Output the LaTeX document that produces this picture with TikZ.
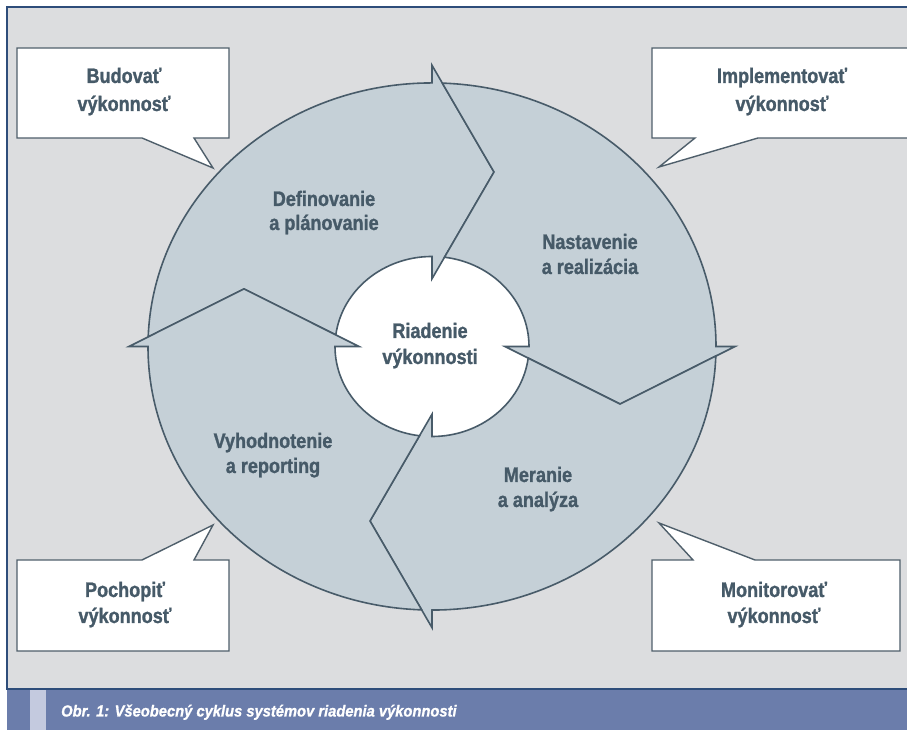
\documentclass[tikz,border=0pt]{standalone}
\usepackage{fontspec}
\setmainfont{Liberation Sans}[FakeStretch=0.86, BoldFeatures={FakeBold=1.2}, BoldItalicFeatures={FakeBold=1.2}]
\newfontfamily\capfont{Liberation Sans}[FakeStretch=0.92, BoldItalicFeatures={FakeBold=1}]
\definecolor{bgc}{HTML}{DCDDDF}
\definecolor{ringfill}{HTML}{C5D0D7}
\definecolor{ringline}{HTML}{485B69}
\definecolor{txt}{HTML}{465A68}
\definecolor{barc}{HTML}{6B7DAB}
\definecolor{stripec}{HTML}{C4CADF}
\definecolor{framec}{HTML}{2E4D7A}
\definecolor{calloutline}{HTML}{4F5F6B}
\begin{document}
\begin{tikzpicture}[x=1pt,y=1pt,
  callout/.style={fill=white,draw=calloutline,line width=1.4pt,line join=miter},
  seg/.style={fill=ringfill,draw=ringline,line width=1.6pt,line join=miter},
  lbl/.style={text=txt,font=\bfseries\fontsize{21}{25}\selectfont,anchor=base,inner sep=0pt},
  captiontext/.style={text=white,font=\capfont\bfseries\itshape\fontsize{16}{18}\selectfont,anchor=base west,inner sep=0pt}]
\useasboundingbox (0,0) rectangle (907,730);
\fill[white] (0,0) rectangle (907,730);
\fill[bgc] (7,41) rectangle (907,723);
\fill[barc] (7,0) rectangle (907,41);
\fill[stripec] (30,0) rectangle (46,41);
\draw[framec,line width=1.5pt] (907,723) -- (7,723) -- (7,41) -- (907,41);

% callouts
\draw[callout] (17,682) -- (229,682) -- (229,592) -- (194,592) -- (213,562) -- (142,592) -- (17,592) -- cycle;
\draw[callout] (652,682) -- (915,682) -- (915,592) -- (758,592) -- (659,563) -- (695,592) -- (652,592) -- cycle;
\draw[callout] (17,79) -- (17,170) -- (142,170) -- (213,205) -- (194,170) -- (229,170) -- (229,79) -- cycle;
\draw[callout] (652,79) -- (652,170) -- (693,170) -- (659,207) -- (755,170) -- (900,170) -- (900,79) -- cycle;

% ring
\begin{scope}[shift={(432,383.5)},yscale=0.928]
  \fill[white] (0,0) circle[radius=97pt];
  \foreach \a in {180,90,0,-90}{
    \filldraw[seg] ({\a-2.08}:284pt) -- ({\a-18.25}:198pt) -- ({\a-7.4}:97pt)
      arc[start angle={\a-7.4}, end angle={\a-90}, radius=97pt]
      -- ({\a-90}:73pt) -- ({\a-108.25}:198pt) -- ({\a-90}:303pt) -- ({\a-90}:284pt)
      arc[start angle={\a-90}, end angle={\a-2.08}, radius=284pt] -- cycle;
  }
\end{scope}

% ring labels
\node[lbl] (def1) at (324,524) {Definovanie};
\node[lbl] (def2) at (324,500) {a plánovanie};
\node[lbl] (nas1) at (590,481) {Nastavenie};
\node[lbl] (nas2) at (590,456) {a realizácia};
\node[lbl] (ria1) at (430,392) {Riadenie};
\node[lbl] (ria2) at (430,366) {výkonnosti};
\node[lbl] (vyh1) at (273,282) {Vyhodnotenie};
\node[lbl] (vyh2) at (273,257) {a reporting};
\node[lbl] (mer1) at (538,248) {Meranie};
\node[lbl] (mer2) at (538,223) {a analýza};

% callout labels
\node[lbl] (bud1) at (124,647) {Budovať};
\node[lbl] (bud2) at (124,619) {výkonnosť};
\node[lbl] (imp1) at (782,647) {Implementovať};
\node[lbl] (imp2) at (782,619) {výkonnosť};
\node[lbl] (poc1) at (125,133) {Pochopiť};
\node[lbl] (poc2) at (125,107) {výkonnosť};
\node[lbl] (mon1) at (774,133) {Monitorovať};
\node[lbl] (mon2) at (774,107) {výkonnosť};

% caption
\node[captiontext] (caption) at (61,13.5) {Obr. 1: Všeobecný cyklus systémov riadenia výkonnosti};
\end{tikzpicture}
\end{document}
